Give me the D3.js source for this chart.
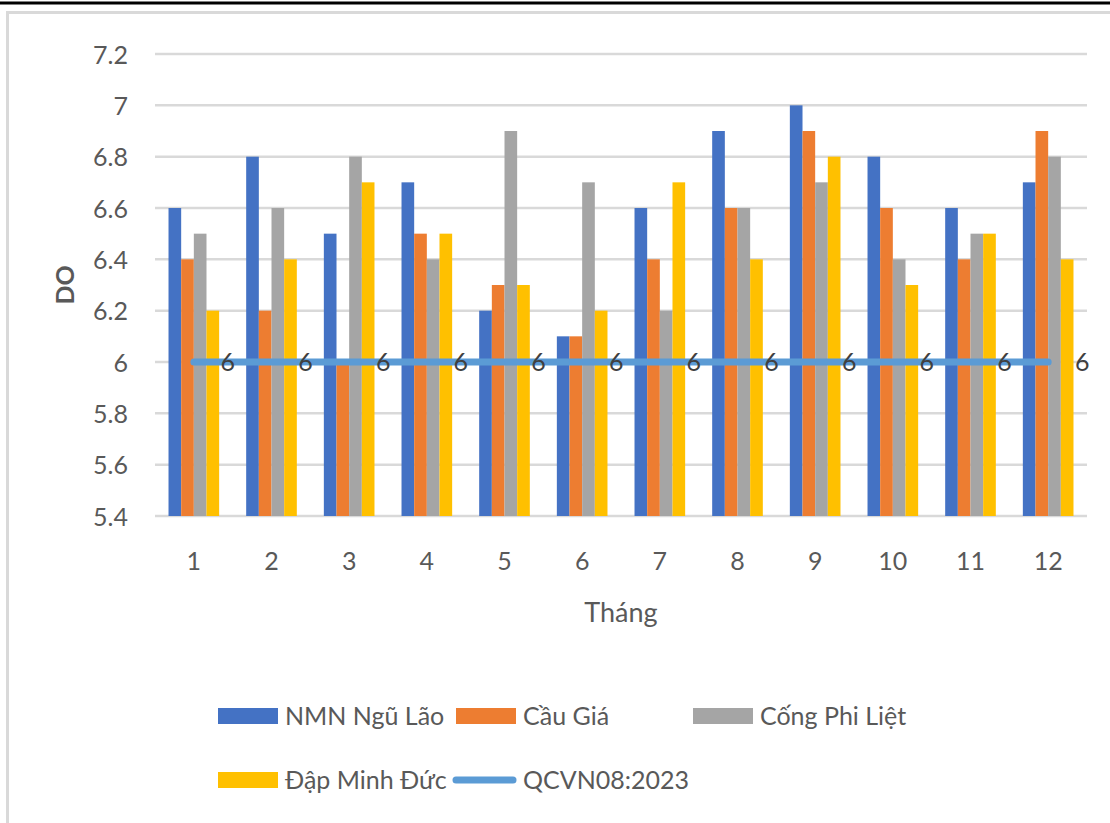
<!DOCTYPE html>
<html>
<head>
<meta charset="utf-8">
<script src="https://cdn.jsdelivr.net/npm/d3@7"></script>
<style>
  html, body { margin: 0; padding: 0; background: #fff; }
  svg { display: block; font-family: Lato, "Open Sans", sans-serif; }
</style>
</head>
<body>
<svg id="chart" width="1110" height="823"></svg>
<script>
// Monthly DO measurements at four stations, with the QCVN08:2023 limit
const months = ["1", "2", "3", "4", "5", "6", "7", "8", "9", "10", "11", "12"];
const seriesNames = ["NMN Ngũ Lão", "Cầu Giá", "Cống Phi Liệt", "Đập Minh Đức"];
const seriesColors = ["#4472C4", "#ED7D31", "#A5A5A5", "#FFC000"];
const nmnNguLao   = [6.6, 6.8, 6.5, 6.7, 6.2, 6.1, 6.6, 6.9, 7.0, 6.8, 6.6, 6.7];
const cauGia      = [6.4, 6.2, 6.0, 6.5, 6.3, 6.1, 6.4, 6.6, 6.9, 6.6, 6.4, 6.9];
const congPhiLiet = [6.5, 6.6, 6.8, 6.4, 6.9, 6.7, 6.2, 6.6, 6.7, 6.4, 6.5, 6.8];
const dapMinhDuc  = [6.2, 6.4, 6.7, 6.5, 6.3, 6.2, 6.7, 6.4, 6.8, 6.3, 6.5, 6.4];
const limitName = "QCVN08:2023";
const limitValues = [6, 6, 6, 6, 6, 6, 6, 6, 6, 6, 6, 6];
const yTicks = [5.4, 5.6, 5.8, 6, 6.2, 6.4, 6.6, 6.8, 7, 7.2];

const seriesData = [nmnNguLao, cauGia, congPhiLiet, dapMinhDuc];
const textColor = "#595959";
const gridColor = "#D9D9D9";
const lineColor = "#5B9BD5";

const svg = d3.select("#chart");

// outer frame
svg.append("line").attr("x1", 0).attr("x2", 1110).attr("y1", 3).attr("y2", 3)
  .attr("stroke", "#000").attr("stroke-width", 3);
svg.append("rect").attr("x", 7.5).attr("y", 12.5).attr("width", 1120).attr("height", 830)
  .attr("fill", "none").attr("stroke", gridColor).attr("stroke-width", 3);

const plotLeft = 155, plotRight = 1087, plotTop = 54, plotBottom = 516;

const x = d3.scaleBand().domain(months).range([plotLeft, plotRight]).paddingInner(0).paddingOuter(0);
const groupWidth = x.bandwidth() * 0.652;
const x1 = d3.scaleBand().domain(d3.range(seriesNames.length)).range([0, groupWidth]);
const y = d3.scaleLinear().domain([5.4, 7.2]).range([plotBottom, plotTop]);

// gridlines
svg.append("g").selectAll("line").data(yTicks).join("line")
  .attr("x1", plotLeft).attr("x2", plotRight)
  .attr("y1", d => y(d)).attr("y2", d => y(d))
  .attr("stroke", gridColor).attr("stroke-width", 2.5);

// y axis labels
const yAxis = svg.append("g").attr("transform", `translate(${plotLeft},0)`)
  .call(d3.axisLeft(y).tickValues(yTicks).tickSize(0).tickPadding(27).tickFormat(d3.format("~g")));
yAxis.select(".domain").remove();
yAxis.selectAll("text").attr("fill", textColor).style("font-size", "25px")
  .style("font-family", "Lato, sans-serif").attr("dy", "0.36em");

// x axis labels
const xAxis = svg.append("g").attr("transform", `translate(0,${plotBottom})`)
  .call(d3.axisBottom(x).tickSize(0).tickPadding(36));
xAxis.select(".domain").remove();
xAxis.selectAll("text").attr("fill", textColor).style("font-size", "25px")
  .style("font-family", "Lato, sans-serif");

// bars
const groups = svg.append("g").selectAll("g").data(months).join("g")
  .attr("transform", d => `translate(${x(d) + (x.bandwidth() - groupWidth) / 2},0)`);
groups.selectAll("rect")
  .data((m, i) => seriesData.map((s, k) => ({ k, v: s[i] })))
  .join("rect")
  .attr("x", d => x1(d.k))
  .attr("width", x1.bandwidth())
  .attr("y", d => y(d.v))
  .attr("height", d => y(5.4) - y(d.v))
  .attr("fill", d => seriesColors[d.k]);

// limit line
const lineGen = d3.line().x((d, i) => x(months[i]) + x.bandwidth() / 2).y(d => y(d));
svg.append("path").datum(limitValues).attr("d", lineGen)
  .attr("fill", "none").attr("stroke", lineColor).attr("stroke-width", 7)
  .attr("stroke-linecap", "round").attr("stroke-linejoin", "round");

// limit data labels
svg.append("g").selectAll("text").data(limitValues).join("text")
  .attr("x", (d, i) => x(months[i]) + x.bandwidth() / 2 + 34)
  .attr("y", d => y(d))
  .attr("dy", "0.36em")
  .attr("text-anchor", "middle")
  .attr("fill", "#404040").style("font-size", "25px")
  .text(d => d3.format("~g")(d));

// axis titles
svg.append("text").attr("transform", "translate(74,285) rotate(-90)")
  .attr("text-anchor", "middle").attr("fill", textColor)
  .style("font-size", "25px").style("font-weight", "bold").text("DO");
svg.append("text").attr("x", 621).attr("y", 622).attr("text-anchor", "middle")
  .attr("fill", textColor).style("font-size", "27px").text("Tháng");

// legend
const legendItems = [
  { name: seriesNames[0], color: seriesColors[0], type: "bar", sx: 218, row: 0 },
  { name: seriesNames[1], color: seriesColors[1], type: "bar", sx: 456, row: 0 },
  { name: seriesNames[2], color: seriesColors[2], type: "bar", sx: 693, row: 0 },
  { name: seriesNames[3], color: seriesColors[3], type: "bar", sx: 218, row: 1 },
  { name: limitName, color: lineColor, type: "line", sx: 456, row: 1 }
];
const rowY = [716, 780];
const legend = svg.append("g");
legendItems.forEach(it => {
  const cy = rowY[it.row];
  if (it.type === "bar") {
    legend.append("rect").attr("x", it.sx).attr("y", cy - 8).attr("width", 60).attr("height", 16)
      .attr("fill", it.color);
  } else {
    legend.append("line").attr("x1", it.sx).attr("x2", it.sx + 57).attr("y1", cy).attr("y2", cy)
      .attr("stroke", it.color).attr("stroke-width", 7).attr("stroke-linecap", "round");
  }
  legend.append("text").attr("x", it.sx + 67).attr("y", cy).attr("dy", "0.36em")
    .attr("fill", textColor).style("font-size", "25px").text(it.name);
});
</script>
</body>
</html>
